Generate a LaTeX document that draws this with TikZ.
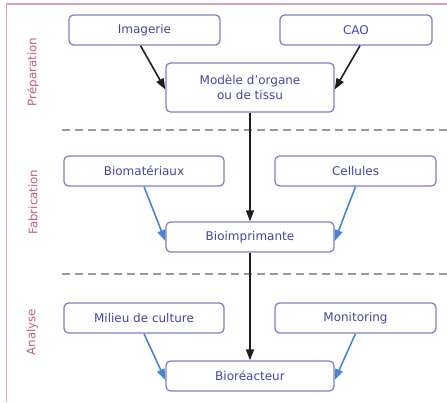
\documentclass[tikz,border=0pt]{standalone}
\usepackage{fontspec}
\setmainfont{DejaVu Sans}
\usetikzlibrary{arrows.meta, calc, positioning}
\definecolor{bpline}{HTML}{8080C8}
\definecolor{bptext}{HTML}{4646A0}
\definecolor{bpphase}{HTML}{C0607E}
\definecolor{bpframe}{HTML}{D8A6B4}
\definecolor{bpsep}{HTML}{9A9A9A}
\definecolor{bpblue}{HTML}{4A86CC}
\tikzset{
  every picture/.style={line join=round},
  stage/.style={rectangle, rounded corners=4.5pt, draw=bpline, fill=white, line width=1.3pt,
    text=bptext, font=\fontsize{12}{15}\selectfont, align=center, inner sep=0pt},
  input/.style={stage, minimum height=30pt},
  phase/.style={rotate=90, text=bpphase, font=\fontsize{11.8}{13}\selectfont},
  main/.style={-{Triangle[length=11pt, width=8pt]}, draw=black!88, line width=1.6pt},
  feed/.style={-{Triangle[length=11pt, width=8pt]}, draw=bpblue, line width=1.6pt},
  sep/.style={draw=bpsep, line width=1.5pt, dash pattern=on 8pt off 5pt},
}

\begin{document}
\begin{tikzpicture}[x=1pt, y=-1pt]
\useasboundingbox (0, 0) rectangle (447, 402);

% ---- frame and phase separators
\draw[bpframe, line width=1.6pt] (6.5, 402) -- (6.5, 4) -- (447, 4);
\draw[sep] (62, 130) -- (447, 130);
\draw[sep] (62, 274) -- (447, 274);

% ---- phase titles
\node[phase] (prep) at (33, 72) {Préparation};
\node[phase] (fab) at (33, 202) {Fabrication};
\node[phase] (ana) at (32, 332) {Analyse};

% ---- Préparation
\node[input, minimum width=151pt] (imagerie) at (144.5, 30) {Imagerie};
\node[input, minimum width=152pt] (cao) at (356, 30) {CAO};
\node[stage, minimum width=168pt, minimum height=49pt] (modele) at (250, 87.5)
  {Modèle d’organe\\ou de tissu};

% ---- Fabrication
\node[input, minimum width=160pt] (biomat) at (144, 171) {Biomatériaux};
\node[input, minimum width=161pt] (cellules) at (355.5, 171) {Cellules};
\node[input, minimum width=168pt] (bioimp) at (250, 237) {Bioimprimante};

% ---- Analyse
\node[input, minimum width=160pt] (milieu) at (144, 318) {Milieu de culture};
\node[input, minimum width=161pt] (monitor) at (355.5, 318) {Monitoring};
\node[input, minimum width=168pt] (bioreact) at (250, 376) {Bioréacteur};

% ---- connectors
\draw[main] ([xshift=-4pt]imagerie.south) -- ([yshift=-2pt]modele.west);
\draw[main] ([xshift=4pt]cao.south) -- ([yshift=-2pt]modele.east);
\draw[main] (modele.south) -- (bioimp.north);
\draw[main] (bioimp.south) -- (bioreact.north);
\draw[feed] (biomat.south) -- ([yshift=-4pt]bioimp.west);
\draw[feed] (cellules.south) -- ([yshift=-4pt]bioimp.east);
\draw[feed] (milieu.south) -- ([yshift=-4pt]bioreact.west);
\draw[feed] (monitor.south) -- ([yshift=-4pt]bioreact.east);

\end{tikzpicture}
\end{document}
